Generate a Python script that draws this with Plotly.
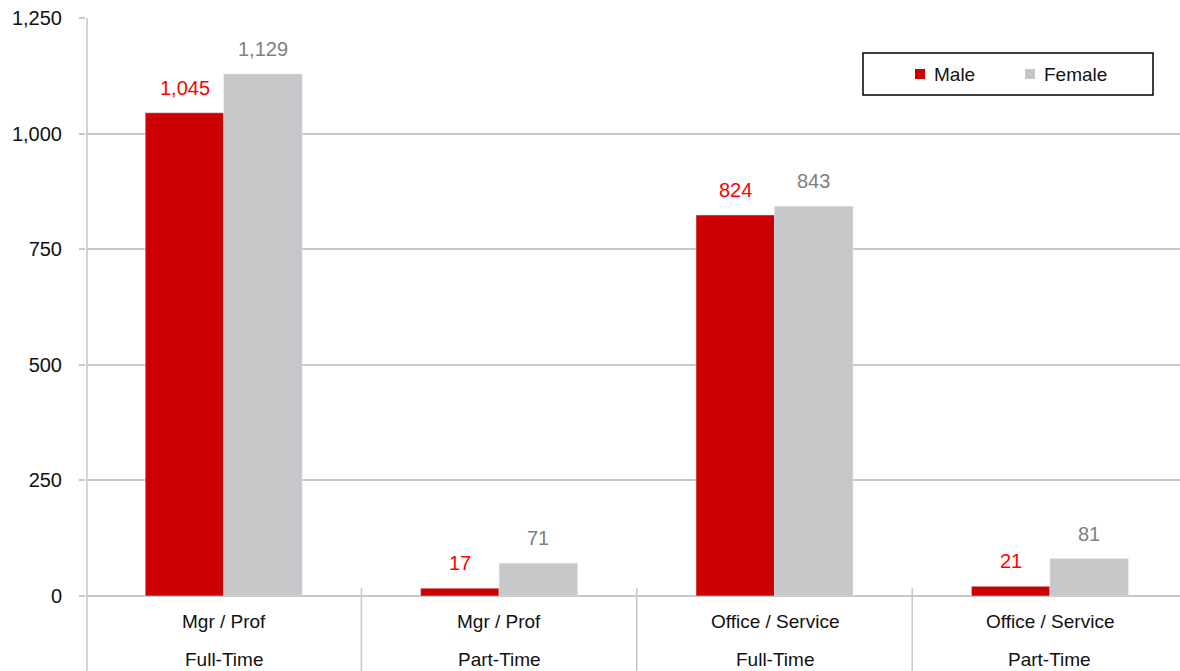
import plotly.graph_objects as go

categories = ["Mgr / Prof|Full-Time", "Mgr / Prof|Part-Time", "Office / Service|Full-Time", "Office / Service|Part-Time"]
line1 = ["Mgr / Prof", "Mgr / Prof", "Office / Service", "Office / Service"]
line2 = ["Full-Time", "Part-Time", "Full-Time", "Part-Time"]
male = [1045, 17, 824, 21]
female = [1129, 71, 843, 81]
y_ticks = [0, 250, 500, 750, 1000, 1250]
series_names = ["Male", "Female"]
series_colors = ["#cc0000", "#c6c7c9"]
label_colors = ["#ff0000", "#808080"]

FONT = "Liberation Sans, Arial, sans-serif"
W, H = 1180, 671
L, R, T, B = 86, 0, 18, 75
pw = W - L - R
ph = H - T - B
y0px = T + ph  # pixel of y=0


def px_x(x):
    return (x - L) / pw


def px_y(y):
    return (y0px - y) / ph


fig = go.Figure()
for name, vals, col in zip(series_names, [male, female], series_colors):
    fig.add_bar(x=categories, y=vals, name=name, marker_color=col, showlegend=False)

# data labels
for vals, lc, shift in ((male, label_colors[0], -39), (female, label_colors[1], 39)):
    for c, v in zip(categories, vals):
        fig.add_annotation(x=c, y=v, xref="x", yref="y", text=f"{v:,}", showarrow=False,
                           xshift=shift, yshift=12, yanchor="bottom",
                           font=dict(size=20, color=lc, family=FONT))

# two-level category labels
for i in range(len(categories)):
    for txt, ypx in ((line1[i], 621), (line2[i], 659)):
        fig.add_annotation(x=categories[i], xref="x", y=px_y(ypx), yref="paper",
                           text=txt, showarrow=False, yanchor="middle",
                           font=dict(size=19, color="#111111", family=FONT))

# category separators and axis line
for i in range(len(categories) - 1):
    fig.add_shape(type="line", xref="x", yref="paper", x0=i + 0.5, x1=i + 0.5,
                  y0=px_y(588), y1=px_y(H + 5), line=dict(color="#c8c8c8", width=1.5))
fig.add_shape(type="line", xref="paper", yref="paper", x0=px_x(87), x1=px_x(87),
              y0=1, y1=px_y(H + 5), line=dict(color="#c8c8c8", width=1.5))

# legend box (manual)
fig.add_shape(type="rect", xref="paper", yref="paper", x0=px_x(863), x1=px_x(1153),
              y0=px_y(95), y1=px_y(53), line=dict(color="#000000", width=1.5), fillcolor="white")
for (sx, tx), name, col in zip(((915, 932), (1025, 1042)), series_names, series_colors):
    fig.add_shape(type="rect", xref="paper", yref="paper", x0=px_x(sx), x1=px_x(sx + 10),
                  y0=px_y(79), y1=px_y(69), line=dict(width=0), fillcolor=col)
    fig.add_annotation(x=px_x(tx), y=px_y(74), xref="paper", yref="paper", text=name,
                       showarrow=False, xanchor="left", yanchor="middle",
                       font=dict(size=19, color="#111111", family=FONT))

fig.update_layout(
    width=W, height=H, margin=dict(l=L, r=R, t=T, b=B, autoexpand=False),
    paper_bgcolor="white", plot_bgcolor="white",
    barmode="group", bargap=0.43, bargroupgap=0,
    font=dict(family=FONT, size=19, color="#111111"),
    showlegend=False,
    xaxis=dict(showticklabels=False, showgrid=False, showline=False, zeroline=False,
               range=[-0.5, 3.5 - 7.6 / 275.3], ticks="", automargin=False),
    yaxis=dict(range=[0, 1250], tickvals=y_ticks, tickformat=",", showgrid=True,
               gridcolor="#c8c8c8", gridwidth=1.5, zeroline=True, zerolinecolor="#c8c8c8",
               zerolinewidth=1.5, showline=False, ticks="outside", ticklen=6,
               tickcolor="#c8c8c8", tickwidth=1.5, automargin=False, ticklabelstandoff=13,
               tickfont=dict(size=20, family=FONT, color="#111111")),
)
fig.write_html("out.html", config={"displayModeBar": False},
               post_script="document.body.style.margin='0';document.body.style.overflow='hidden';")
